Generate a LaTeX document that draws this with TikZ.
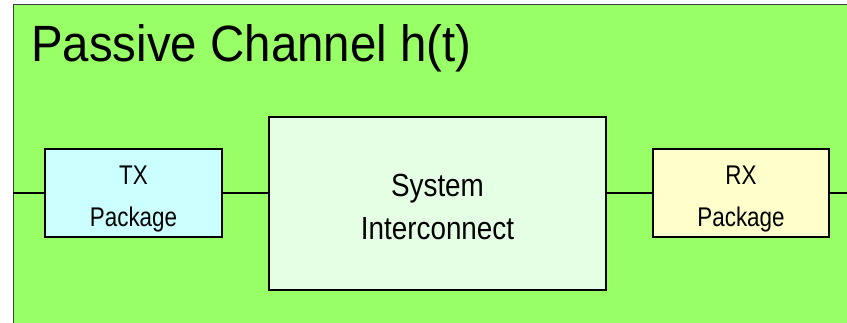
\documentclass[tikz,border=0pt]{standalone}
\usepackage{fontspec}
\setmainfont{Liberation Sans}
\newfontfamily\titlefont[FakeStretch=0.93]{Liberation Sans}
\newfontfamily\pkgfont[FakeStretch=0.83]{Liberation Sans}
\newfontfamily\sysfont[FakeStretch=0.87]{Liberation Sans}

\definecolor{chgreen}{HTML}{99FF66}
\definecolor{txcyan}{HTML}{CCFFFF}
\definecolor{sysmint}{HTML}{E5FFE5}
\definecolor{rxcream}{HTML}{FFFFCC}

\tikzset{
  block/.style={draw=black, line width=1.2pt, inner sep=0pt},
  pkgblock/.style={block, minimum width=177pt, minimum height=88pt},
  blocktext/.style={align=center, inner sep=0pt},
  pkgtext/.style={blocktext, font=\pkgfont\fontsize{27}{42}\selectfont},
  wire/.style={line width=1.2pt}
}

\begin{document}
\begin{tikzpicture}[x=1pt,y=-1pt]
  \useasboundingbox (0,0) rectangle (847,323);

  % channel background
  \draw[fill=chgreen, draw=black!75, line width=1pt] (13,5) rectangle (870,345);
  \node[anchor=base west, inner sep=0pt, font=\titlefont\fontsize{51}{60}\selectfont] (title) at (31,62) {Passive Channel h(t)};

  % blocks
  \node[pkgblock, fill=txcyan] (tx) at (133.5,193) {};
  \node[block, fill=sysmint, minimum width=337pt, minimum height=173pt] (sys) at (437.5,203.5) {};
  \node[pkgblock, fill=rxcream, minimum width=176pt] (rx) at (741,193) {};

  \node[pkgtext] (txlbl) at (133.5,198.7) {TX\\Package};
  \node[blocktext, font=\sysfont\fontsize{32}{43.3}\selectfont] (syslbl) at (437.5,206.9) {System\\Interconnect};
  \node[pkgtext] (rxlbl) at (741,198.7) {RX\\Package};

  % wires
  \coordinate (inL) at (13,193);
  \coordinate (outR) at (847,193);
  \draw[wire] (inL) -- (tx.west);
  \draw[wire] (tx.east) -- (sys.west |- tx.east);
  \draw[wire] (sys.east |- rx.west) -- (rx.west);
  \draw[wire] (rx.east) -- (outR);
\end{tikzpicture}
\end{document}
